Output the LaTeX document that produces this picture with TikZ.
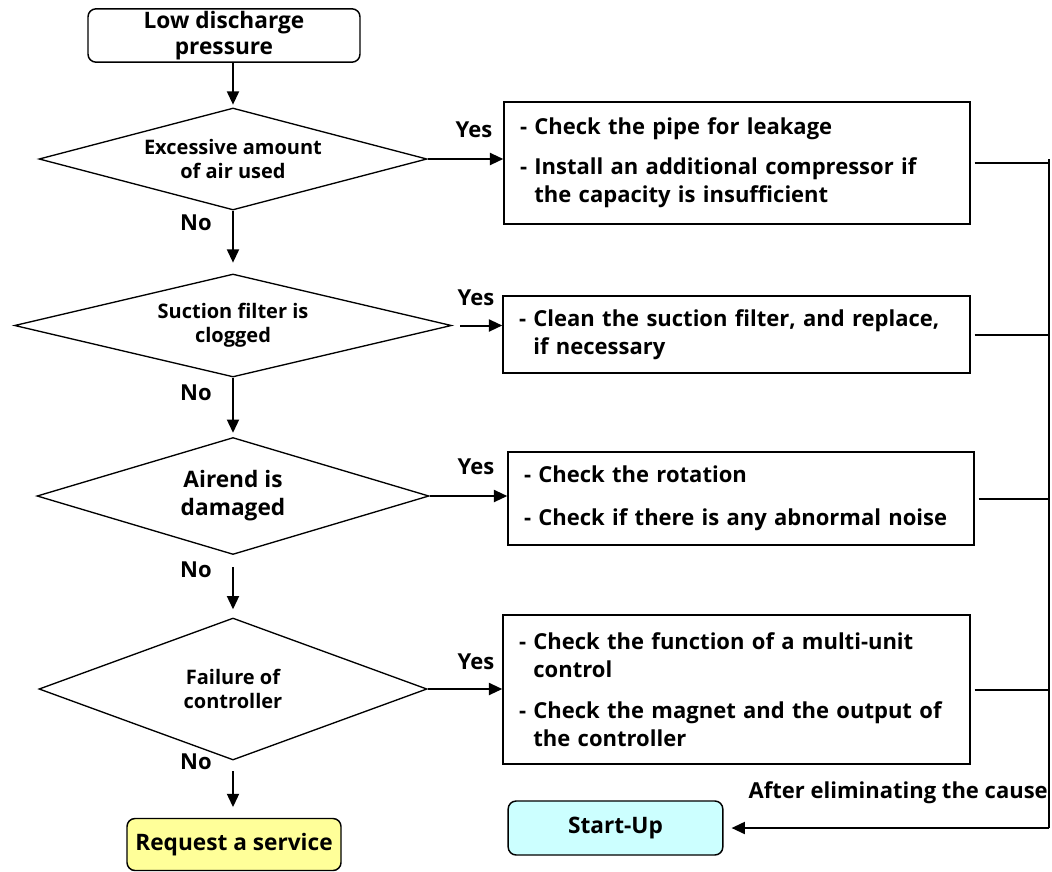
\documentclass[tikz,border=0pt]{standalone}
\usepackage{fontspec}
\setmainfont{Open Sans}
\usetikzlibrary{arrows.meta,shapes.geometric}
\definecolor{serviceyellow}{HTML}{FFFF99}
\definecolor{startcyan}{HTML}{CCFFFF}

\begin{document}
\begin{tikzpicture}[x=0.75pt, y=-0.75pt,
  decision/.style={diamond, draw=black, line width=1pt, inner sep=0pt, align=center, font=\bfseries\fontsize{15}{18}\selectfont},
  action/.style={rectangle, draw=black, line width=1.1pt, inner xsep=12pt, inner ysep=0pt, align=left, font=\bfseries\fontsize{16.5}{21}\selectfont},
  terminal/.style={rectangle, rounded corners=6pt, draw=black, line width=1.1pt, align=center, inner sep=0pt, font=\bfseries\fontsize{17}{19}\selectfont},
  arrow/.style={-{Triangle[length=10pt,width=9pt]}, line width=1.5pt, draw=black},
  bus/.style={line width=1.5pt, draw=black},
  lbl/.style={font=\bfseries\fontsize{16.5}{18}\selectfont, inner sep=0pt}
]
\useasboundingbox (0,0) rectangle (1052,871);
% left column: questions
\node[terminal, minimum width=204pt, minimum height=40pt] (start) at (224,35.5) {Low discharge\\pressure};
\node[decision, aspect=3.8, minimum width=291pt, minimum height=76.5pt] (q1) at (233,159) {Excessive amount\\of air used};
\node[decision, aspect=4.24, minimum width=327.75pt, minimum height=77.25pt] (q2) at (233,325.5) {Suction filter is\\clogged};
\node[decision, aspect=3.35, minimum width=294pt, minimum height=87.75pt, font=\bfseries\fontsize{17}{21}\selectfont] (q3) at (233,496) {Airend is\\damaged};
\node[decision, aspect=2.73, minimum width=291pt, minimum height=106.5pt] (q4) at (233,689) {Failure of\\controller};
\node[terminal, fill=serviceyellow, minimum width=160.5pt, minimum height=39pt] (svc) at (234,844.5) {Request a service};
% right column: remedies
\node[action, minimum width=349.5pt, minimum height=91.5pt, text width=325.5pt] (a1) at (737,163)
  {- Check the pipe for leakage\\[9pt]
   - Install an additional compressor if\\\hphantom{-~}the capacity is insufficient};
\node[action, minimum width=350.25pt, minimum height=57.75pt, text width=326.25pt] (a2) at (736.5,334.5)
  {- Clean the suction filter, and replace,\\\hphantom{-~}if necessary};
\node[action, minimum width=349.5pt, minimum height=69.75pt, text width=325.5pt] (a3) at (741,498.5)
  {- Check the rotation\\[11pt]
   - Check if there is any abnormal noise};
\node[action, minimum width=350.25pt, minimum height=111.75pt, text width=326.25pt] (a4) at (736.5,689.5)
  {- Check the function of a multi-unit\\\hphantom{-~}control\\[10pt]
   - Check the magnet and the output of\\\hphantom{-~}the controller};
\node[terminal, fill=startcyan, minimum width=161pt, minimum height=40.5pt] (su) at (615.5,828) {Start-Up};
\coordinate (bt) at (1049,159);
\coordinate (bb) at (1049,828);
% labels
\node[lbl] (y1) at (474,130) {Yes};
\node[lbl] (y2) at (476,298) {Yes};
\node[lbl] (y3) at (476,467) {Yes};
\node[lbl] (y4) at (476,662) {Yes};
\node[lbl] (n1) at (196,223) {No};
\node[lbl] (n2) at (196,393) {No};
\node[lbl] (n3) at (196,570) {No};
\node[lbl] (n4) at (196,762) {No};
\node[lbl, anchor=east] (elim) at (1048,793) {After eliminating the cause};
% connectors
\draw[arrow, shorten >=2pt] (q1.north |- start.south) -- (q1.north);
\draw[arrow, shorten >=8pt] (q1.south) -- (q2.north);
\draw[arrow, shorten >=3pt] (q2.south) -- (q3.north);
\draw[arrow, shorten <=9pt, shorten >=6pt] (q3.south) -- (q4.north);
\draw[arrow, shorten <=8pt, shorten >=8pt] (q4.south) -- (q4.south |- svc.north);
\draw[arrow] (q1.east) -- (q1.east -| a1.west);
\draw[arrow, shorten <=6pt] (q2.east) -- (q2.east -| a2.west);
\draw[arrow] (q3.east) -- (q3.east -| a3.west);
\draw[arrow] (q4.east) -- (q4.east -| a4.west);
\draw[bus, shorten <=3pt] (a1.east) -- (a1.east -| bt);
\draw[bus, shorten <=3pt] (a2.east) -- (a2.east -| bt);
\draw[bus, shorten <=3pt] (a3.east) -- (a3.east -| bt);
\draw[bus, shorten <=3pt] (a4.east) -- (a4.east -| bt);
\draw[bus] (bt) -- (bb);
\draw[arrow, shorten >=6pt] (bb) -- (su.east);
\end{tikzpicture}
\end{document}
